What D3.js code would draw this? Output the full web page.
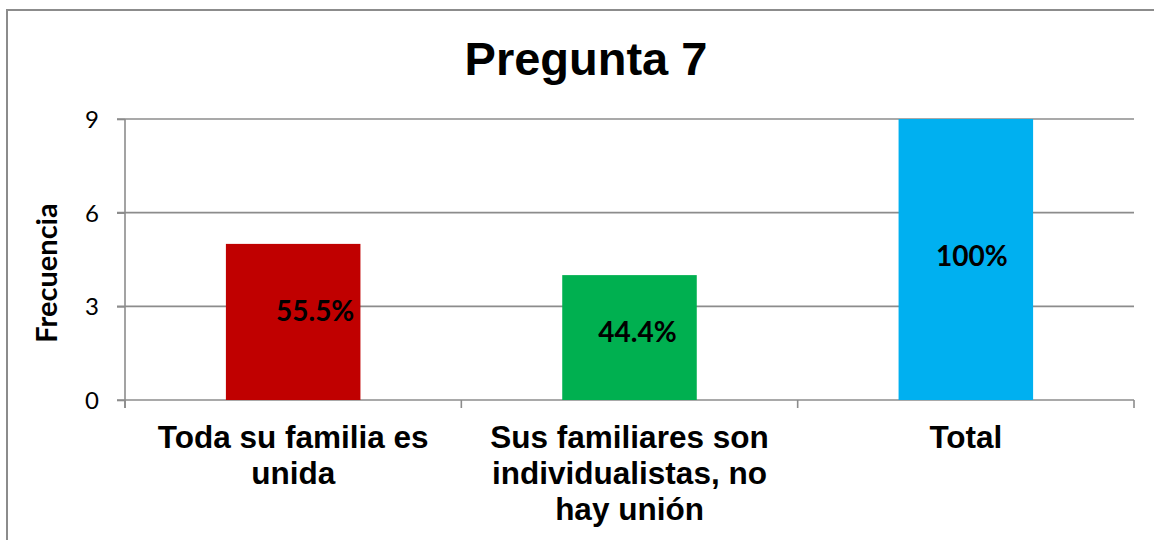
<!DOCTYPE html>
<meta charset="utf-8">
<head>
    <title>Pregunta 7</title>
</head>
<style>
    body { margin: 0; background: #fff; }
    .grid line { stroke: #8c8c8c; stroke-width: 1.6px; }
    .axis path, .axis line { stroke: #8c8c8c; stroke-width: 1.6px; }
    .ytick { font-family: Lato, sans-serif; font-size: 24px; fill: #000; }
    .cat { font-family: "Liberation Sans", Arial, sans-serif; font-weight: bold; font-size: 31.5px; fill: #000; }
    .lbl { font-family: Lato, sans-serif; font-weight: bold; font-size: 28px; fill: #000; }
</style>
<body>
<script src="https://d3js.org/d3.v7.min.js"></script>
<script>
    // data
    var categories = ["Toda su familia es unida", "Sus familiares son individualistas, no hay unión", "Total"];
    var catLines = [["Toda su familia es", "unida"], ["Sus familiares son", "individualistas, no", "hay unión"], ["Total"]];
    var values = [5, 4, 9];
    var percentLabels = ["55.5%", "44.4%", "100%"];
    var colors = ["#C00000", "#00B050", "#00B0F0"];
    var yTicks = [0, 3, 6, 9];

    // manual label nudges (like the original chart)
    var labelDx = [22, 8, 6],
        labelDy = [-11, -6, -4];

    var width = 1154, height = 540;
    var plot = { left: 125, right: 1134, top: 119, bottom: 400 };

    var svg = d3.select("body").append("svg")
        .attr("width", width)
        .attr("height", height);

    // chart frame (cut off on the right/bottom)
    svg.append("rect")
        .attr("x", 7).attr("y", 10)
        .attr("width", 1200).attr("height", 600)
        .attr("fill", "none")
        .attr("stroke", "#8c8c8c")
        .attr("stroke-width", 2);

    svg.append("text")
        .attr("x", 586).attr("y", 75)
        .attr("text-anchor", "middle")
        .style("font-family", "'Liberation Sans', Arial, sans-serif")
        .style("font-weight", "bold")
        .style("font-size", "47px")
        .text("Pregunta 7");

    var x = d3.scaleBand()
        .domain(categories)
        .range([plot.left, plot.right])
        .paddingInner(0.6)
        .paddingOuter(0.3);

    var y = d3.scaleLinear()
        .domain([0, 9])
        .range([plot.bottom, plot.top]);

    // gridlines
    svg.append("g").attr("class", "grid")
        .selectAll("line")
        .data(yTicks.filter(function (d) { return d > 0; }))
        .enter().append("line")
        .attr("x1", plot.left - 8).attr("x2", plot.right)
        .attr("y1", function (d) { return y(d); })
        .attr("y2", function (d) { return y(d); });

    // y axis
    var yAxis = svg.append("g").attr("class", "axis")
        .attr("transform", "translate(" + plot.left + ",0)")
        .call(d3.axisLeft(y).tickValues(yTicks).tickSize(8).tickSizeOuter(0));
    yAxis.select(".domain").attr("d", "M0," + plot.top + "V" + (plot.bottom + 8));
    yAxis.selectAll("text").attr("class", "ytick").attr("x", -26).attr("dy", "0.36em");

    // x axis line + category boundary ticks
    var step = x.step();
    var bounds = d3.range(categories.length + 1).map(function (i) { return plot.left + i * step; });
    var xa = svg.append("g").attr("class", "axis");
    xa.append("line")
        .attr("x1", plot.left - 8).attr("x2", plot.right)
        .attr("y1", plot.bottom).attr("y2", plot.bottom);
    xa.selectAll(".bt").data(bounds).enter().append("line")
        .attr("x1", function (d) { return d; }).attr("x2", function (d) { return d; })
        .attr("y1", plot.bottom).attr("y2", plot.bottom + 8);

    // bars
    svg.selectAll(".bar")
        .data(values)
        .enter().append("rect")
        .attr("class", "bar")
        .attr("x", function (d, i) { return x(categories[i]); })
        .attr("width", x.bandwidth())
        .attr("y", function (d) { return y(d); })
        .attr("height", function (d) { return y(0) - y(d); })
        .attr("fill", function (d, i) { return colors[i]; });

    // value labels
    svg.selectAll(".lbl")
        .data(values)
        .enter().append("text")
        .attr("class", "lbl")
        .attr("text-anchor", "middle")
        .attr("x", function (d, i) { return x(categories[i]) + x.bandwidth() / 2 + labelDx[i]; })
        .attr("y", function (d, i) { return y(d / 2) + labelDy[i]; })
        .attr("dy", "0.36em")
        .text(function (d, i) { return percentLabels[i]; });

    // category labels
    var cats = svg.selectAll(".cat")
        .data(categories)
        .enter().append("text")
        .attr("class", "cat")
        .attr("text-anchor", "middle")
        .attr("x", function (d) { return x(d) + x.bandwidth() / 2; })
        .attr("y", 448);
    cats.each(function (d, i) {
        d3.select(this).selectAll("tspan")
            .data(catLines[i])
            .enter().append("tspan")
            .attr("x", x(d) + x.bandwidth() / 2)
            .attr("dy", function (t, j) { return j === 0 ? 0 : 36; })
            .text(function (t) { return t; });
    });

    // y axis title
    svg.append("text")
        .attr("transform", "translate(57,273) rotate(-90)")
        .attr("text-anchor", "middle")
        .style("font-family", "Lato, sans-serif")
        .style("font-weight", "bold")
        .style("font-size", "29px")
        .text("Frecuencia");
</script>
</body>
</html>
